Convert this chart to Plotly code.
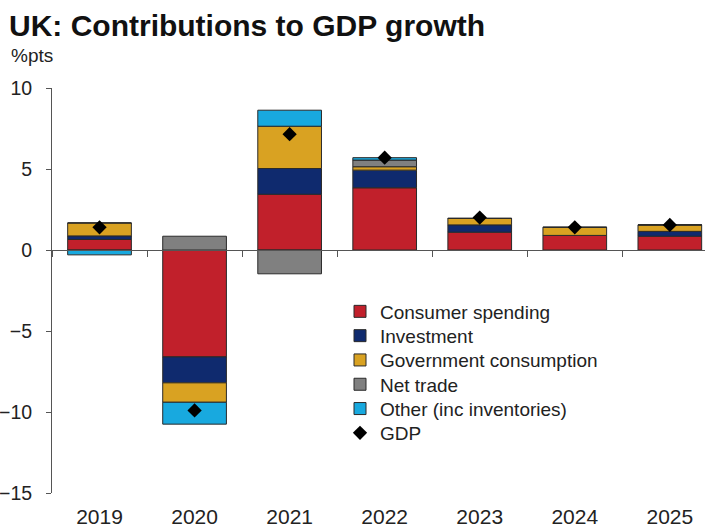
import plotly.graph_objects as go

# Calendar years on the category axis
years = ["2019", "2020", "2021", "2022", "2023", "2024", "2025"]

# Contributions to GDP growth, percentage points
consumer_spending = [0.65, -6.6, 3.44, 3.84, 1.1, 0.9, 0.85]
investment = [0.22, -1.6, 1.59, 1.09, 0.45, 0.0, 0.3]
government_consumption = [0.8, -1.2, 2.61, 0.21, 0.4, 0.5, 0.4]
net_trade = [0.0, 0.85, -1.47, 0.41, 0.0, 0.0, 0.0]
other_inc_inventories = [-0.3, -1.35, 0.99, 0.15, 0.0, 0.0, 0.0]
gdp_growth = [1.4, -9.9, 7.15, 5.7, 2.0, 1.4, 1.55]

components = [
    ("Consumer spending", consumer_spending, "#C1202B"),
    ("Investment", investment, "#0F2A6E"),
    ("Government consumption", government_consumption, "#D9A222"),
    ("Net trade", net_trade, "#808080"),
    ("Other (inc inventories)", other_inc_inventories, "#18A9DF"),
]

FONT = "Liberation Sans, Arial, sans-serif"
AXIS_COLOR = "#555555"
TEXT_COLOR = "#222222"

# Plot-area geometry in pixels (used to place legend rows and the unit label)
PLOT_LEFT, PLOT_TOP, PLOT_BOTTOM, WIDTH = 52, 88, 493, 705
PLOT_W, PLOT_H = WIDTH - PLOT_LEFT, PLOT_BOTTOM - PLOT_TOP


def px_x(px):
    return (px - PLOT_LEFT) / PLOT_W


def px_y(py):
    return (PLOT_BOTTOM - py) / PLOT_H


legend_names = ["legend", "legend2", "legend3", "legend4", "legend5", "legend6"]
ROW0, ROW_STEP, LEGEND_LEFT = 311.5, 24.3, 340

fig = go.Figure()
for i, (name, values, color) in enumerate(components):
    fig.add_trace(go.Bar(
        x=years, y=values, name=name, legend=legend_names[i],
        marker=dict(color=color, line=dict(color="#2a2a2a", width=1)),
        width=0.67,
    ))

fig.add_trace(go.Scatter(
    x=years, y=gdp_growth, name="GDP", mode="markers", legend=legend_names[5],
    marker=dict(symbol="diamond", size=11, color="black"),
))

legend_layout = {}
for i, lname in enumerate(legend_names):
    legend_layout[lname] = dict(
        x=px_x(LEGEND_LEFT), xanchor="left",
        y=px_y(ROW0 + i * ROW_STEP), yanchor="middle",
        font=dict(size=19, color=TEXT_COLOR, family=FONT),
        bgcolor="rgba(0,0,0,0)", borderwidth=0,
    )

fig.update_layout(
    width=WIDTH, height=530,
    margin=dict(l=PLOT_LEFT, r=0, t=PLOT_TOP, b=530 - PLOT_BOTTOM, autoexpand=False),
    paper_bgcolor="white", plot_bgcolor="white",
    barmode="relative",
    font=dict(family=FONT, color=TEXT_COLOR),
    title=dict(
        text="<b>UK: Contributions to GDP growth</b>",
        font=dict(size=30, color="#111111", family=FONT),
        x=9 / WIDTH, xref="container", xanchor="left",
        y=1 - 25 / 530, yref="container", yanchor="middle",
    ),
    showlegend=True,
    annotations=[dict(
        text="%pts", xref="paper", yref="paper",
        x=px_x(9), y=px_y(56),
        xanchor="left", yanchor="middle", showarrow=False,
        font=dict(size=19, color=TEXT_COLOR, family=FONT),
    )],
    **legend_layout,
)

fig.update_yaxes(
    range=[-15, 10], dtick=5, tick0=0,
    showgrid=False, zeroline=False,
    showline=True, linecolor=AXIS_COLOR, linewidth=1,
    ticks="outside", ticklen=5, tickcolor=AXIS_COLOR,
    ticklabelstandoff=10,
    tickfont=dict(size=19.5, color=TEXT_COLOR),
)

# Category axis drawn along the zero line, labels pushed to the bottom
fig.update_xaxes(
    type="category", range=[-0.5, 6.37],
    anchor="free", position=15 / 25,
    showgrid=False, zeroline=False,
    showline=True, linecolor=AXIS_COLOR, linewidth=1,
    ticks="outside", tickson="boundaries", ticklen=6, tickcolor=AXIS_COLOR,
    ticklabelstandoff=248, tickangle=0,
    tickfont=dict(size=21, color=TEXT_COLOR),
)

fig.write_html("out.html")
